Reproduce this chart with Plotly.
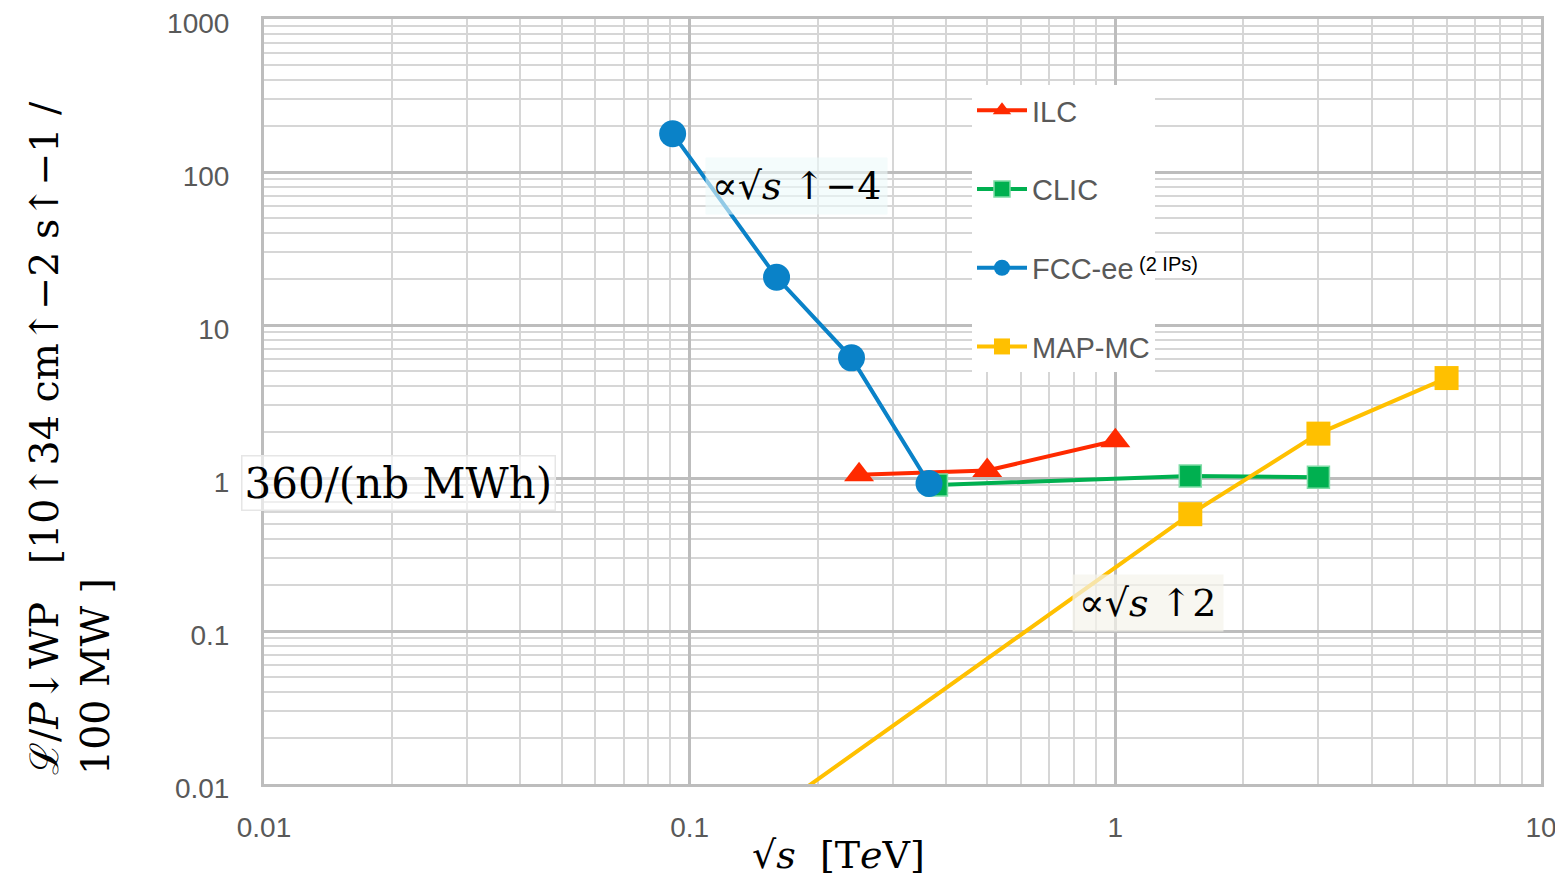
import plotly.graph_objects as go

# ---- data ----
ilc_x = [0.25, 0.5, 1.0]
ilc_y = [1.05, 1.12, 1.75]

clic_x = [0.38, 1.5, 3.0]
clic_y = [0.90, 1.03, 1.01]

fcc_x = [0.0912, 0.16, 0.24, 0.365]
fcc_y = [178, 20.5, 6.1, 0.92]

map_x = [0.126, 1.5, 3.0, 6.0]
map_y = [0.0043, 0.58, 1.95, 4.5]

x_tickvals = [0.01, 0.1, 1, 10]
x_ticktext = ["0.01", "0.1", "1", "10"]
y_tickvals = [0.01, 0.1, 1, 10, 100, 1000]
y_ticktext = ["0.01", "0.1", "1", "10", "100", "1000"]

# page body has an 8px margin: figure is offset by (8, 8) in the screenshot
OFF = 8
FW, FH = 1563 - OFF, 883 - OFF
# plot-area geometry in screenshot pixels
L, R, T, B = 264, 1541, 19, 784
W, H = R - L, B - T
def px(x): return (x - L) / W
def py(y): return (B - y) / H

minor_x = [m * 10 ** e for e in (-2, -1, 0) for m in range(2, 10)]
minor_y = [m * 10 ** e for e in (-2, -1, 0, 1, 2) for m in range(2, 10)]

fig = go.Figure()
fig.add_trace(go.Scatter(x=ilc_x, y=ilc_y, name="ILC", mode="lines+markers",
                         legendgroup="a",
                         line=dict(color="#ff2a00", width=4),
                         marker=dict(symbol="triangle-up", size=26, color="#ff2a00")))
fig.add_trace(go.Scatter(x=clic_x, y=clic_y, name="CLIC", mode="lines+markers",
                         legendgroup="b",
                         line=dict(color="#00b050", width=4),
                         marker=dict(symbol="square", size=22, color="#00b050",
                                     line=dict(color="#7fdca6", width=1.5))))
fig.add_trace(go.Scatter(x=fcc_x, y=fcc_y, name="FCC-ee", mode="lines+markers",
                         legendgroup="c",
                         line=dict(color="#0a82c8", width=4),
                         marker=dict(symbol="circle", size=27, color="#0a82c8")))
fig.add_trace(go.Scatter(x=map_x, y=map_y, name="MAP-MC", mode="lines+markers",
                         legendgroup="d",
                         line=dict(color="#ffc000", width=4),
                         marker=dict(symbol="square", size=24, color="#ffc000")))

grid_major = "#bdbdbd"
grid_minor = "#d6d6d6"
tickfont = dict(family="Liberation Sans", size=28, color="#595959")

fig.update_xaxes(type="log", range=[-2, 1], tickvals=x_tickvals, ticktext=x_ticktext,
                 showgrid=True, gridcolor=grid_major, gridwidth=3,
                 showline=True, linecolor=grid_major, linewidth=3, mirror=True,
                 ticks="", ticklabelstandoff=16,
                 tickfont=tickfont, zeroline=False, automargin=False,
                 ticklabeloverflow="allow",
                 minor=dict(tickvals=minor_x, showgrid=True, gridcolor=grid_minor,
                            gridwidth=2, ticks=""))
fig.update_yaxes(type="log", range=[-2, 3], tickvals=y_tickvals, ticktext=y_ticktext,
                 showgrid=True, gridcolor=grid_major, gridwidth=3,
                 showline=True, linecolor=grid_major, linewidth=3, mirror=True,
                 ticks="", ticklabelstandoff=26, ticklabelshift=4,
                 tickfont=tickfont, zeroline=False, automargin=False,
                 ticklabeloverflow="allow",
                 minor=dict(tickvals=minor_y, showgrid=True, gridcolor=grid_minor,
                            gridwidth=2, ticks=""))

serif = "DejaVu Serif"
C = dict(xanchor="center", yanchor="middle", xref="paper", yref="paper", showarrow=False)
ann = []
ann.append(dict(text="∝√<i>s</i> ↑−4", x=px(796), y=py(186),
                font=dict(family=serif, size=38, color="black"),
                bgcolor="rgba(236,250,250,0.6)", borderpad=6, **C))
ann.append(dict(text="∝√<i>s</i> ↑2", x=px(1148), y=py(603),
                font=dict(family=serif, size=38, color="black"),
                bgcolor="rgba(245,243,235,0.7)", borderpad=6, **C))
ann.append(dict(text="360/(nb MWh)", x=px(398), y=py(483),
                font=dict(family=serif, size=42, color="black"),
                bgcolor="rgba(255,255,255,0.6)", bordercolor="#e6e6e6", borderwidth=1.5,
                borderpad=2, **C))
ann.append(dict(text="(2 IPs)", x=px(1168), y=py(264),
                font=dict(family="Liberation Sans", size=20, color="black"), **C))
ann.append(dict(text="√<i>s</i>  [T<i>e</i>V]", x=px(838), y=py(855),
                font=dict(family=serif, size=38, color="black"), **C))
ann.append(dict(text="ℒ/<i>P</i>↓WP   [10↑34 cm↑−2 s↑−1 /<br>100 MW ]",
                x=px(69), y=py(777), xref="paper", yref="paper",
                xanchor="center", yanchor="bottom", align="left", textangle=-90,
                showarrow=False, font=dict(family=serif, size=39.5, color="black")))

fig.update_layout(
    width=FW, height=FH,
    margin=dict(l=L - OFF, r=FW - (R - OFF), t=T - OFF, b=FH - (B - OFF), autoexpand=False),
    paper_bgcolor="white", plot_bgcolor="white",
    annotations=ann,
    showlegend=True,
    legend=dict(x=px(972), y=py(85), xanchor="left", yanchor="top",
                bgcolor="white", font=dict(family="Liberation Sans", size=29, color="#595959"),
                tracegroupgap=38, itemwidth=50),
)

fig.write_html("out.html")
